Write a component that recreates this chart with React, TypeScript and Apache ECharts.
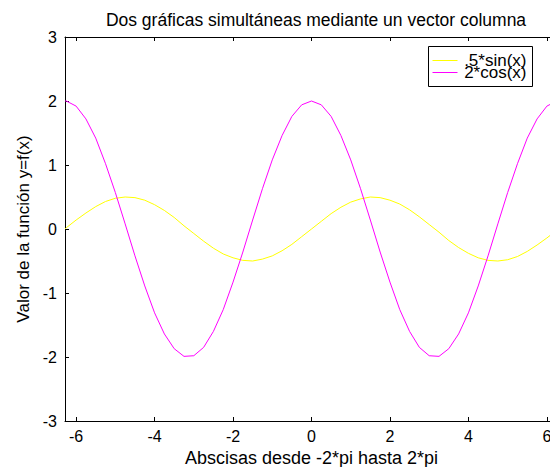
import React, { useEffect, useRef } from "react";
import * as echarts from "echarts";

// Abscissas sampled over [-2*pi, 2*pi]
const xValues = [
  -6.28, -6.25, -6.0, -5.75, -5.5, -5.25, -5.0, -4.75, -4.5, -4.25, -4.0, -3.75, -3.5,
  -3.25, -3.0, -2.75, -2.5, -2.25, -2.0, -1.75, -1.5, -1.25, -1.0, -0.75, -0.5, -0.25,
  0,
  0.25, 0.5, 0.75, 1.0, 1.25, 1.5, 1.75, 2.0, 2.25, 2.5, 2.75, 3.0, 3.25, 3.5, 3.75,
  4.0, 4.25, 4.5, 4.75, 5.0, 5.25, 5.5, 5.75, 6.0, 6.25, 6.28,
];

// .5*sin(x)
const halfSin = [
  0.0, 0.02, 0.14, 0.25, 0.35, 0.43, 0.48, 0.5, 0.49, 0.45, 0.38, 0.29, 0.18,
  0.05, -0.07, -0.19, -0.3, -0.39, -0.45, -0.49, -0.5, -0.47, -0.42, -0.34, -0.24, -0.12,
  0,
  0.12, 0.24, 0.34, 0.42, 0.47, 0.5, 0.49, 0.45, 0.39, 0.3, 0.19, 0.07, -0.05, -0.18, -0.29,
  -0.38, -0.45, -0.49, -0.5, -0.48, -0.43, -0.35, -0.25, -0.14, -0.02, 0.0,
];

// 2*cos(x)
const doubleCos = [
  2.0, 2.0, 1.92, 1.72, 1.42, 1.02, 0.57, 0.08, -0.42, -0.89, -1.31, -1.64, -1.87,
  -1.99, -1.98, -1.85, -1.6, -1.26, -0.83, -0.36, 0.14, 0.63, 1.08, 1.46, 1.76, 1.94,
  2,
  1.94, 1.76, 1.46, 1.08, 0.63, 0.14, -0.36, -0.83, -1.26, -1.6, -1.85, -1.98, -1.99, -1.87, -1.64,
  -1.31, -0.89, -0.42, 0.08, 0.57, 1.02, 1.42, 1.72, 1.92, 2.0, 2.0,
];

const xTicks = [-6, -4, -2, 0, 2, 4, 6];
const seriesNames = [".5*sin(x)", "2*cos(x)"];
const seriesColors = ["#ffff00", "#ff00ff"];

const FONT = "'Liberation Sans', Arial, Helvetica, sans-serif";
const X_MIN = -6.2832;
const X_MAX = 6.2832;

export default function App() {
  const ref = useRef<HTMLDivElement>(null);

  useEffect(() => {
    if (!ref.current) return;
    const chart = echarts.init(ref.current, null, { renderer: "svg" });

    const pairs = (ys: number[]) => xValues.map((x, i) => [x, ys[i]]);
    const tickStyle = { show: true, inside: true, length: 4, lineStyle: { color: "#000", width: 1 } };

    chart.setOption({
      animation: false,
      backgroundColor: "#ffffff",
      title: {
        text: "Dos gráficas simultáneas mediante un vector columna",
        left: 311,
        textAlign: "center",
        top: 6,
        textStyle: { fontFamily: FONT, fontSize: 17.5, fontWeight: "normal", color: "#000" },
      },
      grid: {
        left: 65,
        right: -8,
        top: 37,
        bottom: 46,
        containLabel: false,
        outerBoundsMode: "none",
      },
      xAxis: [
        {
          type: "value",
          min: X_MIN,
          max: X_MAX,
          position: "bottom",
          name: "Abscisas desde -2*pi hasta 2*pi",
          nameLocation: "middle",
          nameGap: 28,
          nameTextStyle: { fontFamily: FONT, fontSize: 18, color: "#000" },
          axisLine: { show: true, onZero: false, lineStyle: { color: "#000", width: 1 } },
          axisTick: { ...tickStyle, customValues: xTicks },
          axisLabel: {
            customValues: xTicks,
            fontFamily: FONT,
            fontSize: 16,
            color: "#000",
            margin: 7,
          },
          splitLine: { show: false },
        },
        {
          type: "value",
          min: X_MIN,
          max: X_MAX,
          position: "top",
          axisLine: { show: true, onZero: false, lineStyle: { color: "#000", width: 1 } },
          axisTick: { ...tickStyle, customValues: xTicks },
          axisLabel: { show: false },
          splitLine: { show: false },
        },
      ],
      yAxis: [
        {
          type: "value",
          min: -3,
          max: 3,
          interval: 1,
          position: "left",
          name: "Valor de la función y=f(x)",
          nameLocation: "middle",
          nameGap: 25,
          nameTextStyle: { fontFamily: FONT, fontSize: 17, color: "#000" },
          axisLine: { show: true, onZero: false, lineStyle: { color: "#000", width: 1 } },
          axisTick: tickStyle,
          axisLabel: { fontFamily: FONT, fontSize: 16, color: "#000", margin: 8 },
          splitLine: { show: false },
        },
        {
          type: "value",
          min: -3,
          max: 3,
          interval: 1,
          position: "right",
          axisLine: { show: true, onZero: false, lineStyle: { color: "#000", width: 1 } },
          axisTick: tickStyle,
          axisLabel: { show: false },
          splitLine: { show: false },
        },
      ],
      series: [
        {
          name: seriesNames[0],
          type: "line",
          data: pairs(halfSin),
          showSymbol: false,
          symbol: "none",
          lineStyle: { color: seriesColors[0], width: 1 },
          itemStyle: { color: seriesColors[0] },
          clip: true,
        },
        {
          name: seriesNames[1],
          type: "line",
          data: pairs(doubleCos),
          showSymbol: false,
          symbol: "none",
          lineStyle: { color: seriesColors[1], width: 1 },
          itemStyle: { color: seriesColors[1] },
          clip: true,
        },
      ],
      graphic: [
        {
          type: "group",
          left: 428,
          top: 46,
          children: [
            {
              type: "rect",
              shape: { x: 0, y: 0, width: 104, height: 40 },
              style: { fill: "#ffffff", stroke: "#000", lineWidth: 1 },
            },
            {
              type: "line",
              shape: { x1: 4, y1: 14, x2: 29, y2: 14 },
              style: { stroke: seriesColors[0], lineWidth: 1 },
            },
            {
              type: "line",
              shape: { x1: 4, y1: 26, x2: 29, y2: 26 },
              style: { stroke: seriesColors[1], lineWidth: 1 },
            },
            {
              type: "text",
              x: 98,
              y: 14,
              style: {
                text: seriesNames[0],
                fontFamily: FONT,
                fontSize: 17,
                fill: "#000",
                align: "right",
                verticalAlign: "middle",
              },
            },
            {
              type: "text",
              x: 98,
              y: 26,
              style: {
                text: seriesNames[1],
                fontFamily: FONT,
                fontSize: 17,
                fill: "#000",
                align: "right",
                verticalAlign: "middle",
              },
            },
          ],
        },
      ],
    });

    return () => chart.dispose();
  }, []);

  return (
    <div
      ref={ref}
      style={{ position: "absolute", left: 0, top: 0, width: 550, height: 467 }}
    />
  );
}
